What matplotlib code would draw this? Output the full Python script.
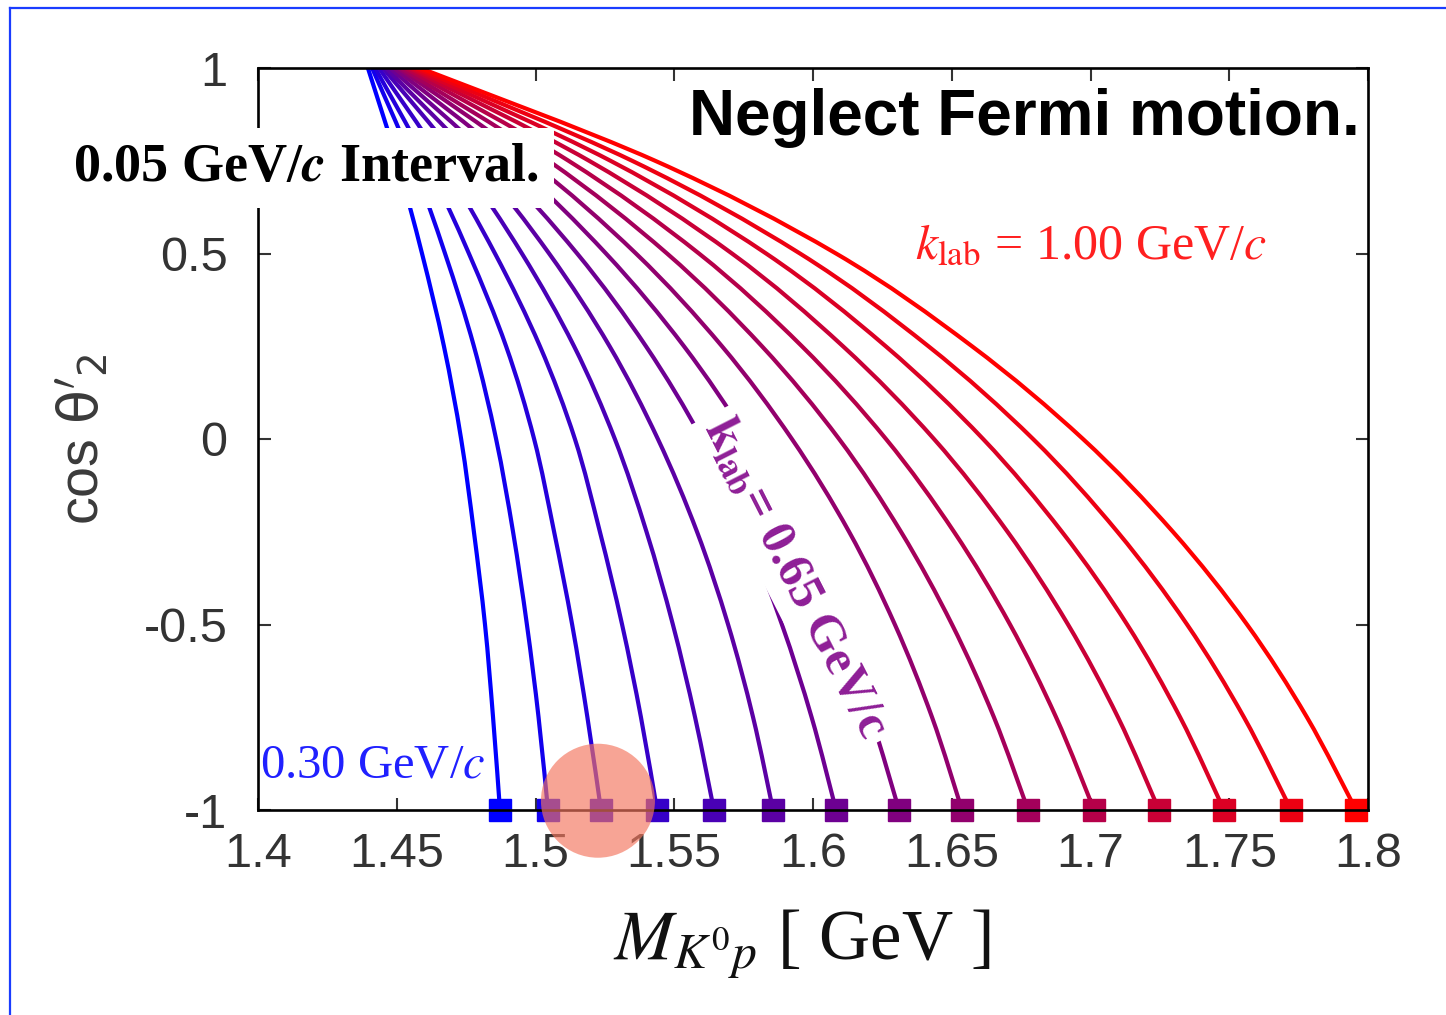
import matplotlib
matplotlib.use("Agg")
import matplotlib.pyplot as plt
from matplotlib.patches import Ellipse, PathPatch
from matplotlib.path import Path
from matplotlib.lines import Line2D
from matplotlib.colors import LinearSegmentedColormap

plt.rcParams['font.family'] = ['Liberation Sans', 'DejaVu Sans']

# ---------------- data ----------------
k_lab = [0.30, 0.35, 0.40, 0.45, 0.50, 0.55, 0.60, 0.65,
         0.70, 0.75, 0.80, 0.85, 0.90, 0.95, 1.00]
cos_levels = [1.0, 0.75, 0.5, 0.25, 0.0, -0.25, -0.5, -0.75, -1.0]

# M_K0p [GeV] of each curve at the cos levels above
m_030 = [1.4396, 1.4501, 1.4591, 1.4670, 1.4732, 1.4778, 1.4818, 1.4847, 1.4872]
m_035 = [1.4411, 1.4555, 1.4674, 1.4778, 1.4858, 1.4919, 1.4969, 1.5011, 1.5045]
m_040 = [1.4422, 1.4605, 1.4760, 1.4894, 1.4995, 1.5067, 1.5132, 1.5187, 1.5236]
m_045 = [1.4436, 1.4663, 1.4854, 1.5016, 1.5142, 1.5232, 1.5312, 1.5380, 1.5438]
m_050 = [1.4450, 1.4726, 1.4951, 1.5139, 1.5286, 1.5400, 1.5495, 1.5575, 1.5643]
m_055 = [1.4461, 1.4786, 1.5049, 1.5267, 1.5441, 1.5582, 1.5694, 1.5784, 1.5856]
m_060 = [1.4476, 1.4847, 1.5150, 1.5398, 1.5600, 1.5759, 1.5888, 1.5995, 1.6083]
m_065 = [1.4490, 1.4912, 1.5254, 1.5535, 1.5762, 1.5939, 1.6086, 1.6209, 1.6310]
m_070 = [1.4505, 1.4978, 1.5362, 1.5672, 1.5924, 1.6130, 1.6295, 1.6429, 1.6537]
m_075 = [1.4515, 1.5047, 1.5474, 1.5816, 1.6094, 1.6317, 1.6501, 1.6652, 1.6775]
m_080 = [1.4530, 1.5119, 1.5589, 1.5960, 1.6263, 1.6508, 1.6710, 1.6876, 1.7013]
m_085 = [1.4544, 1.5193, 1.5708, 1.6108, 1.6436, 1.6701, 1.6919, 1.7099, 1.7247]
m_090 = [1.4555, 1.5270, 1.5831, 1.6262, 1.6613, 1.6897, 1.7132, 1.7323, 1.7481]
m_095 = [1.4569, 1.5348, 1.5953, 1.6416, 1.6793, 1.7097, 1.7348, 1.7553, 1.7723]
m_100 = [1.4584, 1.5431, 1.6083, 1.6573, 1.6973, 1.7297, 1.7564, 1.7780, 1.7957]

curves = [m_030, m_035, m_040, m_045, m_050, m_055, m_060, m_065,
          m_070, m_075, m_080, m_085, m_090, m_095, m_100]

x_ticks = [1.4, 1.45, 1.5, 1.55, 1.6, 1.65, 1.7, 1.75, 1.8]
x_tick_labels = ["1.4", "1.45", "1.5", "1.55", "1.6", "1.65", "1.7", "1.75", "1.8"]
y_ticks = [-1, -0.5, 0, 0.5, 1]
y_tick_labels = ["-1", "-0.5", "0", "0.5", "1"]

highlight_mass = 1.5225   # circled region
highlight_cos = -0.975


def smooth_path(xs, ys):
    """Smooth (Catmull-Rom style Bezier) path through the read points."""
    pts = list(zip(xs, ys))
    n = len(pts)
    verts = [pts[0]]
    codes = [Path.MOVETO]
    for i in range(n - 1):
        p0 = pts[i - 1] if i > 0 else pts[i]
        p1 = pts[i]
        p2 = pts[i + 1]
        p3 = pts[i + 2] if i + 2 < n else pts[i + 1]
        c1 = (p1[0] + (p2[0] - p0[0]) / 6, p1[1] + (p2[1] - p0[1]) / 6)
        c2 = (p2[0] - (p3[0] - p1[0]) / 6, p2[1] - (p3[1] - p1[1]) / 6)
        verts += [c1, c2, p2]
        codes += [Path.CURVE4] * 3
    return Path(verts, codes)


# ---------------- figure ----------------
W, H = 1446, 1015
fig = plt.figure(figsize=(W / 100, H / 100), dpi=100)
ax = fig.add_axes([258 / W, 1 - 810 / H, 1110 / W, 742 / H])

cmap = LinearSegmentedColormap.from_list("br", [(0, 0, 1), (1, 0, 0)])
kmin, kmax = min(k_lab), max(k_lab)
for k, m in zip(k_lab, curves):
    c = cmap((k - kmin) / (kmax - kmin))
    ax.add_patch(PathPatch(smooth_path(m, cos_levels), fill=False, ec=c,
                           lw=3.0, capstyle='butt', zorder=2))
    ax.plot([m[-1]], [cos_levels[-1]], marker='s', ms=16, color=c,
            mec=c, clip_on=False, zorder=2.2)

ax.set_xlim(1.4, 1.8)
ax.set_ylim(-1, 1)
ax.set_xticks(x_ticks)
ax.set_xticklabels(x_tick_labels)
ax.set_yticks(y_ticks)
ax.set_yticklabels(y_tick_labels)
ax.tick_params(direction='in', length=9, width=1.5, top=True, right=True,
               colors='#333333', labelsize=35)
ax.tick_params(axis='x', pad=16)
ax.tick_params(axis='y', pad=22)
for s in ax.spines.values():
    s.set_linewidth(1.9)
    s.set_color('black')
    s.set_zorder(3)

ax.set_xlabel(r'$M_{K^0p}$ [ GeV ]', fontsize=51, family='Liberation Serif',
              math_fontfamily='stix', color='#111111')
ax.xaxis.label.set_va('baseline')
ax.xaxis.set_label_coords(0.49, -0.2022)

ax.set_ylabel(r"cos $\mathrm{\theta}'_2$", fontsize=40, color='#3a3a3a',
              math_fontfamily='dejavusans')
ax.yaxis.label.set_va('center')
ax.yaxis.set_label_coords(-0.158, 0.5)

# ---------------- annotations ----------------
ax.text(0.993, 0.9097, 'Neglect Fermi motion.', transform=ax.transAxes,
        ha='right', va='baseline', fontsize=46, fontweight='bold',
        family='Liberation Sans', color='black', zorder=6)

ax.text(1.4173, 0.7305, r'0.05 GeV/$\mathbfit{c}$ Interval.',
        ha='center', va='center', fontsize=39, fontweight='bold',
        family='Liberation Serif', math_fontfamily='stix', color='black',
        bbox=dict(boxstyle='square,pad=0.28', fc='white', ec='none'),
        clip_on=False, zorder=6)

ax.text(1.6368, 0.488, r'$k_{\rm lab}$ = 1.00 GeV/$c$', ha='left',
        va='baseline', fontsize=36, family='Liberation Serif',
        math_fontfamily='stix', color='#ff2020', zorder=5)

ax.text(1.4007, -0.879, r'0.30 GeV/$c$', ha='left', va='center',
        fontsize=35, family='Liberation Serif', math_fontfamily='stix',
        color='#2020ff', zorder=5)

ax.text(1.5935, -0.3747, r'$\mathbf{k}_{\mathbf{lab}}$= 0.65 GeV/c',
        ha='center', va='center', rotation=-63, rotation_mode='anchor',
        fontsize=36, fontweight='bold', family='Liberation Serif',
        math_fontfamily='stix', color='#8e1e96',
        bbox=dict(boxstyle='square,pad=0.15', fc='white', ec='none'),
        zorder=5)

# highlight circle (about 114 px across)
ax.add_patch(Ellipse((highlight_mass, highlight_cos), 114 / 2775, 114 / 371,
                     fc='#f4765f', ec='none', alpha=0.66, clip_on=False,
                     zorder=10))

# blue frame of the slide
fig.add_artist(Line2D([10 / W, 10 / W], [0, 1 - 8 / H], color='#1a3cff',
                      lw=1.6, transform=fig.transFigure))
fig.add_artist(Line2D([10 / W, 1], [1 - 8 / H, 1 - 8 / H], color='#1a3cff',
                      lw=1.6, transform=fig.transFigure))

fig.savefig('out.png', dpi=100)
